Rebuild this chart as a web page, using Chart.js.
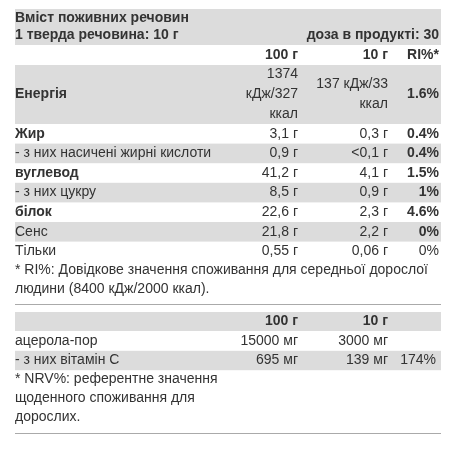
<!DOCTYPE html>
<html><head><meta charset="utf-8">
<script src="https://cdn.jsdelivr.net/npm/chart.js@4"></script>
<style>html,body{margin:0;padding:0;background:#fff}</style>
</head><body>
<canvas id="c" width="456" height="449"></canvas>
<script>
// nutrition table data
const nutrients = ['Жир', '- з них насичені жирні кислоти', 'вуглевод', '- з них цукру', 'білок', 'Сенс', 'Тільки'];
const per100 = ['3,1 г', '0,9 г', '41,2 г', '8,5 г', '22,6 г', '21,8 г', '0,55 г'];
const per10 = ['0,3 г', '<0,1 г', '4,1 г', '0,9 г', '2,3 г', '2,2 г', '0,06 г'];
const riPct = ['0.4%', '0.4%', '1.5%', '1%', '4.6%', '0%', '0%'];
const boldName = [true, false, true, false, true, false, false];
const boldRi = [true, true, true, true, true, true, false];
const energy = { name: 'Енергія', a: ['1374', 'кДж/327', 'ккал'], b: ['137 кДж/33', 'ккал'], ri: '1.6%' };
const extras = ['ацерола-пор', '- з них вітамін C'];
const extras100 = ['15000 мг', '695 мг'];
const extras10 = ['3000 мг', '139 мг'];
const extrasNrv = ['', '174%'];

const GRAY = '#dcdcdc', TXT = '#333';
const F = '14px "Liberation Sans", Arial, sans-serif';
const FB = 'bold 14px "Liberation Sans", Arial, sans-serif';

const tablePlugin = {
  id: 'table',
  afterDraw(chart) {
    const ctx = chart.ctx, x = chart.scales.x, y = chart.scales.y;
    const X = v => x.getPixelForValue(v), Y = v => y.getPixelForValue(v);
    const L = 15, R = 441, C1 = 298, C2 = 388, C3 = 439;
    ctx.save();
    ctx.textBaseline = 'middle';
    const band = (y0, y1) => { ctx.fillStyle = GRAY; ctx.fillRect(X(L), Y(y0), X(R) - X(L), Y(y1) - Y(y0)); };
    const txt = (s, xx, yy, bold, align) => {
      ctx.font = bold ? FB : F; ctx.fillStyle = TXT; ctx.textAlign = align || 'left';
      ctx.fillText(s, X(xx), Y(yy));
    };
    const hline = yy => { ctx.strokeStyle = '#aaa'; ctx.lineWidth = 1; ctx.beginPath(); ctx.moveTo(X(L), Y(yy) + .5); ctx.lineTo(X(R), Y(yy) + .5); ctx.stroke(); };

    band(9, 45);
    txt('Вміст поживних речовин', L, 18, true);
    txt('1 тверда речовина: 10 г', L, 35, true);
    txt('доза в продукті: 30', C3, 35, true, 'right');
    txt('100 г', C1, 55, true, 'right');
    txt('10 г', C2, 55, true, 'right');
    txt('RI%*', C3, 55, true, 'right');

    band(65, 124);
    txt(energy.name, L, 94, true);
    energy.a.forEach((s, i) => txt(s, C1, 74 + i * 20, false, 'right'));
    energy.b.forEach((s, i) => txt(s, C2, 84 + i * 20, false, 'right'));
    txt(energy.ri, C3, 94, true, 'right');

    let top = 124;
    nutrients.forEach((n, i) => {
      const h = 19.6, mid = top + h / 2;
      if (i % 2 === 1) band(top, top + h);
      txt(n, L, mid, boldName[i]);
      txt(per100[i], C1, mid, false, 'right');
      txt(per10[i], C2, mid, false, 'right');
      txt(riPct[i], C3, mid, boldRi[i], 'right');
      top += h;
    });
    txt('* RI%: Довідкове значення споживання для середньої дорослої', L, 270);
    txt('людини (8400 кДж/2000 ккал).', L, 289);
    hline(304);

    band(312, 331);
    txt('100 г', C1, 321, true, 'right');
    txt('10 г', C2, 321, true, 'right');
    extras.forEach((n, i) => {
      const mid = 341 + i * 19.5;
      if (i === 1) band(mid - 9.7, mid + 9.7);
      txt(n, L, mid);
      txt(extras100[i], C1, mid, false, 'right');
      txt(extras10[i], C2, mid, false, 'right');
      if (extrasNrv[i]) txt(extrasNrv[i], 436, mid, false, 'right');
    });
    txt('* NRV%: референтне значення', L, 379);
    txt('щоденного споживання для', L, 398);
    txt('дорослих.', L, 417);
    hline(433);
    ctx.restore();
  }
};

new Chart(document.getElementById('c'), {
  type: 'scatter',
  data: { datasets: [{ data: [] }] },
  options: {
    responsive: false, animation: false,
    layout: { padding: 0 },
    plugins: { legend: { display: false }, tooltip: { enabled: false } },
    scales: {
      x: { type: 'linear', min: 0, max: 456, display: false },
      y: { type: 'linear', min: 0, max: 449, reverse: true, display: false }
    }
  },
  plugins: [tablePlugin]
});
</script>
</body></html>
